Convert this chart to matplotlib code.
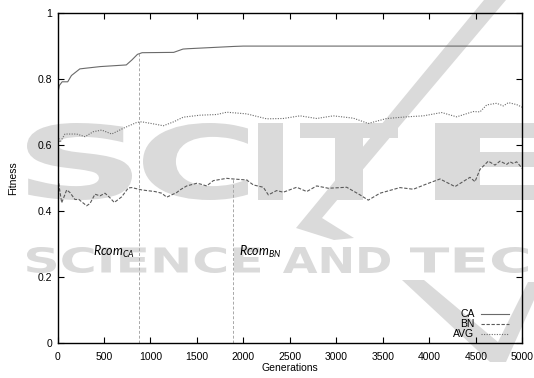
import matplotlib
matplotlib.use("Agg")
import matplotlib.pyplot as plt
from matplotlib.textpath import TextPath
from matplotlib.patches import PathPatch, Polygon
from matplotlib.font_manager import FontProperties
from matplotlib.transforms import Affine2D

# --- data ---
ca_gen = [0, 20, 50, 110, 150, 240, 300, 460, 740, 800, 860, 910, 1250, 1350, 1400, 1900, 2000, 5000]
ca_fit = [0.751, 0.780, 0.791, 0.791, 0.810, 0.830, 0.832, 0.837, 0.842, 0.857, 0.874, 0.879,
          0.880, 0.890, 0.891, 0.898, 0.899, 0.899]

bn_gen = [0, 20, 45, 99, 134, 188, 231, 260, 314, 350, 403, 457, 511, 565, 611, 690, 762, 798,
          906, 960, 1049, 1121, 1175, 1228, 1282, 1318, 1390, 1497, 1533, 1605, 1676, 1820, 1892,
          2035, 2107, 2214, 2268, 2358, 2429, 2573, 2681, 2788, 2913, 3111, 3254, 3343, 3469,
          3684, 3828, 3971, 4115, 4276, 4437, 4491, 4545, 4634, 4706, 4760, 4832, 4867, 4903,
          4939, 5000]
bn_fit = [0.514, 0.470, 0.425, 0.464, 0.456, 0.435, 0.435, 0.428, 0.416, 0.423, 0.451, 0.446,
          0.454, 0.440, 0.426, 0.443, 0.470, 0.471, 0.464, 0.462, 0.459, 0.454, 0.442, 0.449,
          0.456, 0.464, 0.476, 0.484, 0.482, 0.476, 0.492, 0.499, 0.497, 0.494, 0.479, 0.472,
          0.449, 0.462, 0.457, 0.472, 0.459, 0.476, 0.469, 0.472, 0.449, 0.433, 0.454, 0.471,
          0.466, 0.482, 0.497, 0.474, 0.502, 0.489, 0.526, 0.551, 0.539, 0.551, 0.541, 0.549,
          0.544, 0.549, 0.529]

avg_gen = [0, 27, 81, 206, 296, 385, 475, 583, 720, 852, 905, 1066, 1138, 1250, 1353, 1533,
           1712, 1820, 2035, 2250, 2429, 2609, 2788, 2967, 3182, 3343, 3541, 3756, 3935, 4133,
           4294, 4473, 4545, 4617, 4724, 4796, 4850, 4939, 5000]
avg_fit = [0.635, 0.608, 0.633, 0.633, 0.625, 0.640, 0.645, 0.633, 0.652, 0.668, 0.670, 0.662,
           0.658, 0.670, 0.684, 0.690, 0.692, 0.699, 0.694, 0.679, 0.680, 0.688, 0.680, 0.688,
           0.681, 0.665, 0.680, 0.685, 0.688, 0.698, 0.685, 0.701, 0.700, 0.721, 0.726, 0.718,
           0.728, 0.722, 0.714]

rcom_gen = [880, 1890]
rcom_top = [0.879, 0.498]
rcom_names = [r"$Rcom_{CA}$", r"$Rcom_{BN}$"]
rcom_text_gen = [385, 1956]

W, H = 534, 378
WM = "#dadada"

plt.rcParams["font.family"] = ["Liberation Sans", "DejaVu Sans"]
plt.rcParams["mathtext.fontset"] = "custom"
plt.rcParams["mathtext.it"] = "Lato:italic"
plt.rcParams["mathtext.rm"] = "Lato"


def watermark(fig, s, x0, y0, x1, y1):
    # stretch a bold word into a pixel box (y measured from the top)
    tp = TextPath((0, 0), s, size=100, prop=FontProperties(family="DejaVu Sans", weight="bold"))
    ext = tp.get_extents()
    tr = (Affine2D().translate(-ext.x0, -ext.y0)
          .scale((x1 - x0) / ext.width, (y1 - y0) / ext.height)
          .translate(x0, H - y1)
          .scale(1 / W, 1 / H))
    fig.add_artist(PathPatch(tr.transform_path(tp), transform=fig.transFigure,
                             fc=WM, ec="none", zorder=-2))


def shape(fig, pts):
    pts = [(x / W, 1 - y / H) for x, y in pts]
    fig.add_artist(Polygon(pts, closed=True, transform=fig.transFigure,
                           fc=WM, ec="none", zorder=-2))


fig = plt.figure(figsize=(W / 100, H / 100), dpi=100)
fig.patch.set_facecolor("white")

# faint publisher watermark behind the plot
for s, x0, x1 in [("S", 27, 132), ("C", 143, 248), ("I", 258, 283), ("T", 300, 398), ("E", 435, 560)]:
    watermark(fig, s, x0, 123, x1, 200)
for s, x0, x1 in [("SCIENCE", 27, 260), ("AND", 283, 390), ("TECH", 410, 575)]:
    watermark(fig, s, x0, 247, x1, 273)
shape(fig, [(484, 0), (506, 0), (322, 218), (354, 238), (334, 240), (296, 228)])
shape(fig, [(402, 280), (424, 280), (498, 342), (528, 282), (534, 282), (534, 300),
            (506, 362), (490, 362)])

ax = fig.add_axes([57.5 / W, 1 - 343.3 / H, 464.8 / W, 330.6 / H])
ax.set_facecolor("none")

ax.plot(ca_gen, ca_fit, color="#6a6a6a", lw=0.8, label="CA")
ax.plot(bn_gen, bn_fit, color="#5a5a5a", lw=0.8, dashes=(3, 1.5), label="BN")
ax.plot(avg_gen, avg_fit, color="#6a6a6a", lw=0.8, dashes=(1, 1.3), label="AVG")

for g, top, name, tg in zip(rcom_gen, rcom_top, rcom_names, rcom_text_gen):
    ax.vlines(g, 0, top, colors="#a8a8a8", lw=0.7, linestyles=(0, (3, 2)))
    ax.text(tg, 0.265, name, fontsize=9, va="baseline", ha="left")

ax.set_xlim(0, 5000)
ax.set_ylim(0, 1)
ax.set_xticks(range(0, 5001, 500))
ax.set_yticks([0, 0.2, 0.4, 0.6, 0.8, 1])
ax.set_yticklabels(["0", "0.2", "0.4", "0.6", "0.8", "1"])
ax.tick_params(direction="in", top=True, right=True, length=4, width=0.8,
               labelsize=7.5, pad=4)
ax.tick_params(axis="x", pad=6)
for sp in ax.spines.values():
    sp.set_linewidth(1.0)

ax.set_xlabel("Generations", fontsize=7.5, labelpad=1)
ax.set_ylabel("Fitness", fontsize=7.5, labelpad=14)

ax.legend(loc="lower right", bbox_to_anchor=(0.971, 0.012), frameon=False,
          markerfirst=False, fontsize=7.5, handlelength=2.7, handletextpad=0.6,
          labelspacing=0.0, borderpad=0, borderaxespad=0)

fig.savefig("out.png", dpi=100)
